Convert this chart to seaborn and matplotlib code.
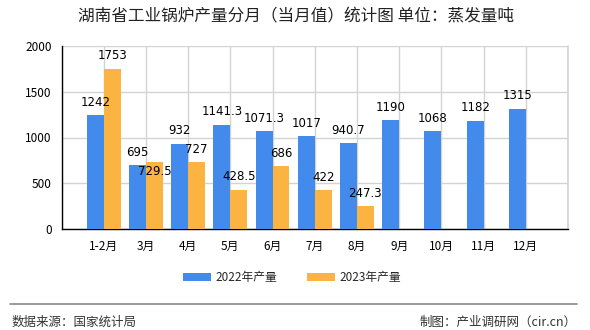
import numpy as np
import pandas as pd
import matplotlib
matplotlib.use("Agg")
import matplotlib.pyplot as plt
import seaborn as sns
from matplotlib.lines import Line2D
from matplotlib.patches import Patch

months = ["1-2月", "3月", "4月", "5月", "6月", "7月", "8月", "9月", "10月", "11月", "12月"]
v2022 = [1242, 695, 932, 1141.3, 1071.3, 1017, 940.7, 1190, 1068, 1182, 1315]
v2023 = [1753, 729.5, 727, 428.5, 686, 422, 247.3, np.nan, np.nan, np.nan, np.nan]
series = ["2022年产量", "2023年产量"]
yticks = [0, 500, 1000, 1500, 2000]

title = "湖南省工业锅炉产量分月（当月值）统计图 单位：蒸发量吨"
source = "数据来源：国家统计局"
maker = "制图：产业调研网（cir.cn）"

colors = ["#428BEC", "#FBB442"]

sns.set_theme(style="white")
plt.rcParams["font.family"] = ["Noto Sans CJK SC", "DejaVu Sans"]

df = pd.DataFrame({
    "month": months * 2,
    "value": v2022 + v2023,
    "series": [series[0]] * len(months) + [series[1]] * len(months),
})

fig = plt.figure(figsize=(5.9, 3.3), dpi=100)
ax = fig.add_axes([61.5 / 590, 1 - 229 / 330, (568 - 61.5) / 590, (229 - 46) / 330])

sns.barplot(data=df, x="month", y="value", hue="series", order=months,
            hue_order=series, palette=colors, width=0.8, saturation=1,
            ax=ax, legend=False, zorder=3, linewidth=0, edgecolor="none", gap=0)

ax.set_xlim(-1, len(months))
ax.set_ylim(0, 2000)
ax.set_xticks(range(-1, len(months) + 1))
ax.set_xticklabels([""] + months + [""], fontsize=8.5)
ax.set_yticks(yticks)
ax.set_yticklabels([str(t) for t in yticks], fontsize=8.5)
ax.set_xlabel("")
ax.set_ylabel("")
ax.grid(True, color="#D3D3D3", linewidth=1, zorder=0)
ax.set_axisbelow(True)
ax.axvline(len(months), color="#D3D3D3", linewidth=1.2, clip_on=False, zorder=0)
for s in ["top", "right"]:
    ax.spines[s].set_visible(False)
for s in ["left", "bottom"]:
    ax.spines[s].set_color("black")
    ax.spines[s].set_linewidth(1)
ax.tick_params(axis="both", which="both", length=4, width=1, color="black",
               direction="out", pad=3, labelcolor="black")
ax.tick_params(axis="x", pad=4)

# value labels
overrides = {(1, 1): -6.5}
for si, cont in enumerate(ax.containers):
    vals = v2022 if si == 0 else v2023
    for i, bar in enumerate(cont):
        v = vals[i]
        if v is None or (isinstance(v, float) and np.isnan(v)):
            continue
        x = bar.get_x() + bar.get_width() / 2
        h = bar.get_height()
        dy = overrides.get((si, i), 9.3)
        ax.annotate(f"{v:g}", (x, h), xytext=(0, dy), textcoords="offset points",
                    ha="center", va="center", fontsize=8.5, color="black",
                    family=["DejaVu Sans"], zorder=5)

fig.text(296 / 590, 1 - 17 / 330, title, ha="center", va="center", fontsize=12, color="#222222")

handles = [Patch(facecolor=c, edgecolor="none") for c in colors]
fig.legend(handles, series, loc="center", bbox_to_anchor=(292 / 590, 1 - 277.5 / 330),
           ncol=2, frameon=False, fontsize=8.5, handlelength=2.4, handleheight=0.75,
           columnspacing=2.5, handletextpad=0.4)

fig.add_artist(Line2D([10 / 590, 577 / 590], [1 - 304 / 330, 1 - 304 / 330],
                      color="#888888", linewidth=1.2))
fig.text(12 / 590, 1 - 322 / 330, source, ha="left", va="center", fontsize=9, color="#333333")
fig.text(577 / 590, 1 - 322 / 330, maker, ha="right", va="center", fontsize=9, color="#333333")

fig.savefig("out.png", dpi=100)
